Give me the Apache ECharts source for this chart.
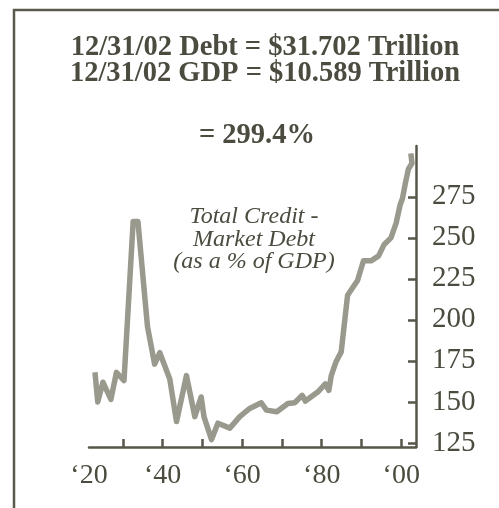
<!DOCTYPE html>
<html>
    <head>
        <meta charset="utf-8">
        <title>Total Credit Market Debt</title>
        <style>
            html, body { margin: 0; padding: 0; background: #fff; }
            #chart1 { width: 499px; height: 508px; }
        </style>
    </head>
    <body>
        <div id="chart1"></div>
    </body>
    <script src="https://cdn.jsdelivr.net/npm/echarts@6/dist/echarts.min.js"></script>
    <script type="text/javascript">
        // 数据：年份和债务占GDP百分比
        var years = [1923.0, 1923.7, 1925.0, 1927.0, 1928.4, 1930.3, 1932.6, 1933.8, 1936.2, 1938.0,
            1939.3, 1941.8, 1943.5, 1946.0, 1948.1, 1949.7, 1950.4, 1952.3, 1953.9, 1956.9,
            1959.4, 1961.9, 1964.8, 1966.1, 1968.7, 1971.5, 1973.2, 1975.1, 1975.9, 1979.0,
            1980.9, 1981.8, 1982.4, 1983.6, 1984.9, 1986.5, 1989.0, 1990.5, 1992.4, 1994.3,
            1995.7, 1997.4, 1998.7, 1999.7, 2000.3, 2001.0, 2001.8, 2002.7, 2002.4];
        var debtPct = [168, 150, 162, 151.5, 168, 163, 260, 260, 196, 173,
            180, 164, 138, 166, 141, 153, 141, 127, 137, 134,
            141, 146, 149.5, 145, 144, 149, 149.5, 154, 150.5, 156,
            161, 157, 166, 174.5, 180.5, 215, 224, 236, 236, 239,
            246, 250, 259, 270, 274, 283, 292, 295.5, 301.5];
        var xTicks = [1930, 1940, 1950, 1960, 1970, 1980, 1990, 2000];
        var xLabels = [1921.5, 1940, 1960, 1980, 2000];
        var yTicks = [125, 150, 175, 200, 225, 250, 275];
        var titleLines = ['12/31/02 Debt = $31.702 Trillion', '12/31/02 GDP = $10.589 Trillion'];
        var ratioText = '= 299.4%';
        var noteLines = ['Total Credit -', 'Market Debt', '(as a % of GDP)'];

        var ink = '#4c4b3f';
        var serif = "'Liberation Serif', 'DejaVu Serif', serif";

        var points = years.map(function (y, i) { return [y, debtPct[i]]; });

        // 文字：每行一个 text 元素
        var texts = [];
        titleLines.forEach(function (t, i) {
            texts.push({ type: 'text', style: { text: t, x: 265, y: 62 + i * 26, textAlign: 'center', textVerticalAlign: 'bottom', fill: ink, fontFamily: serif, fontWeight: 'bold', fontSize: 28.5 } });
        });
        texts.push({ type: 'text', style: { text: ratioText, x: 257, y: 150, textAlign: 'center', textVerticalAlign: 'bottom', fill: ink, fontFamily: serif, fontWeight: 'bold', fontSize: 28.5 } });
        noteLines.forEach(function (t, i) {
            texts.push({ type: 'text', style: { text: t, x: 254, y: 229 + i * 22.5, textAlign: 'center', textVerticalAlign: 'bottom', fill: ink, fontFamily: serif, fontStyle: 'italic', fontSize: 24 } });
        });

        var myChart1 = echarts.init(document.getElementById('chart1'));

        myChart1.setOption({
            animation: false,
            backgroundColor: '#fff',
            grid: { left: 89, right: 83, top: 146, bottom: 61 },
            xAxis: {
                type: 'value',
                min: 1921.5,
                max: 2003.7,
                axisLine: { onZero: false, lineStyle: { color: '#57564a', width: 2.5 } },
                axisTick: { inside: true, length: 8, customValues: xTicks, lineStyle: { color: '#57564a', width: 2.5 } },
                axisLabel: {
                    customValues: xLabels,
                    margin: 15,
                    color: ink,
                    fontFamily: serif,
                    fontSize: 28,
                    formatter: function (v) {
                        var yy = (Math.round(v / 20) * 20) % 100;
                        return '\u2018' + (yy < 10 ? '0' + yy : yy);
                    }
                },
                splitLine: { show: false }
            },
            yAxis: {
                type: 'value',
                position: 'right',
                min: 122.5,
                max: 306,
                axisLine: { show: true, onZero: false, lineStyle: { color: '#57564a', width: 2.5 } },
                axisTick: { show: true, inside: true, length: 8, customValues: yTicks, lineStyle: { color: '#57564a', width: 2.5 } },
                axisLabel: {
                    customValues: yTicks,
                    margin: 16,
                    color: ink,
                    fontFamily: serif,
                    fontSize: 29
                },
                splitLine: { show: false }
            },
            graphic: [
                {
                    type: 'rect',
                    shape: { x: 14, y: 10, width: 700, height: 700 },
                    style: { fill: 'none', stroke: '#5a594c', lineWidth: 2.5 },
                    silent: true
                }
            ].concat(texts),
            series: [{
                name: 'Total Credit Market Debt',
                type: 'line',
                data: points,
                showSymbol: false,
                lineStyle: { color: '#9a998d', width: 5.5, join: 'round' }
            }]
        });
    </script>
</html>
